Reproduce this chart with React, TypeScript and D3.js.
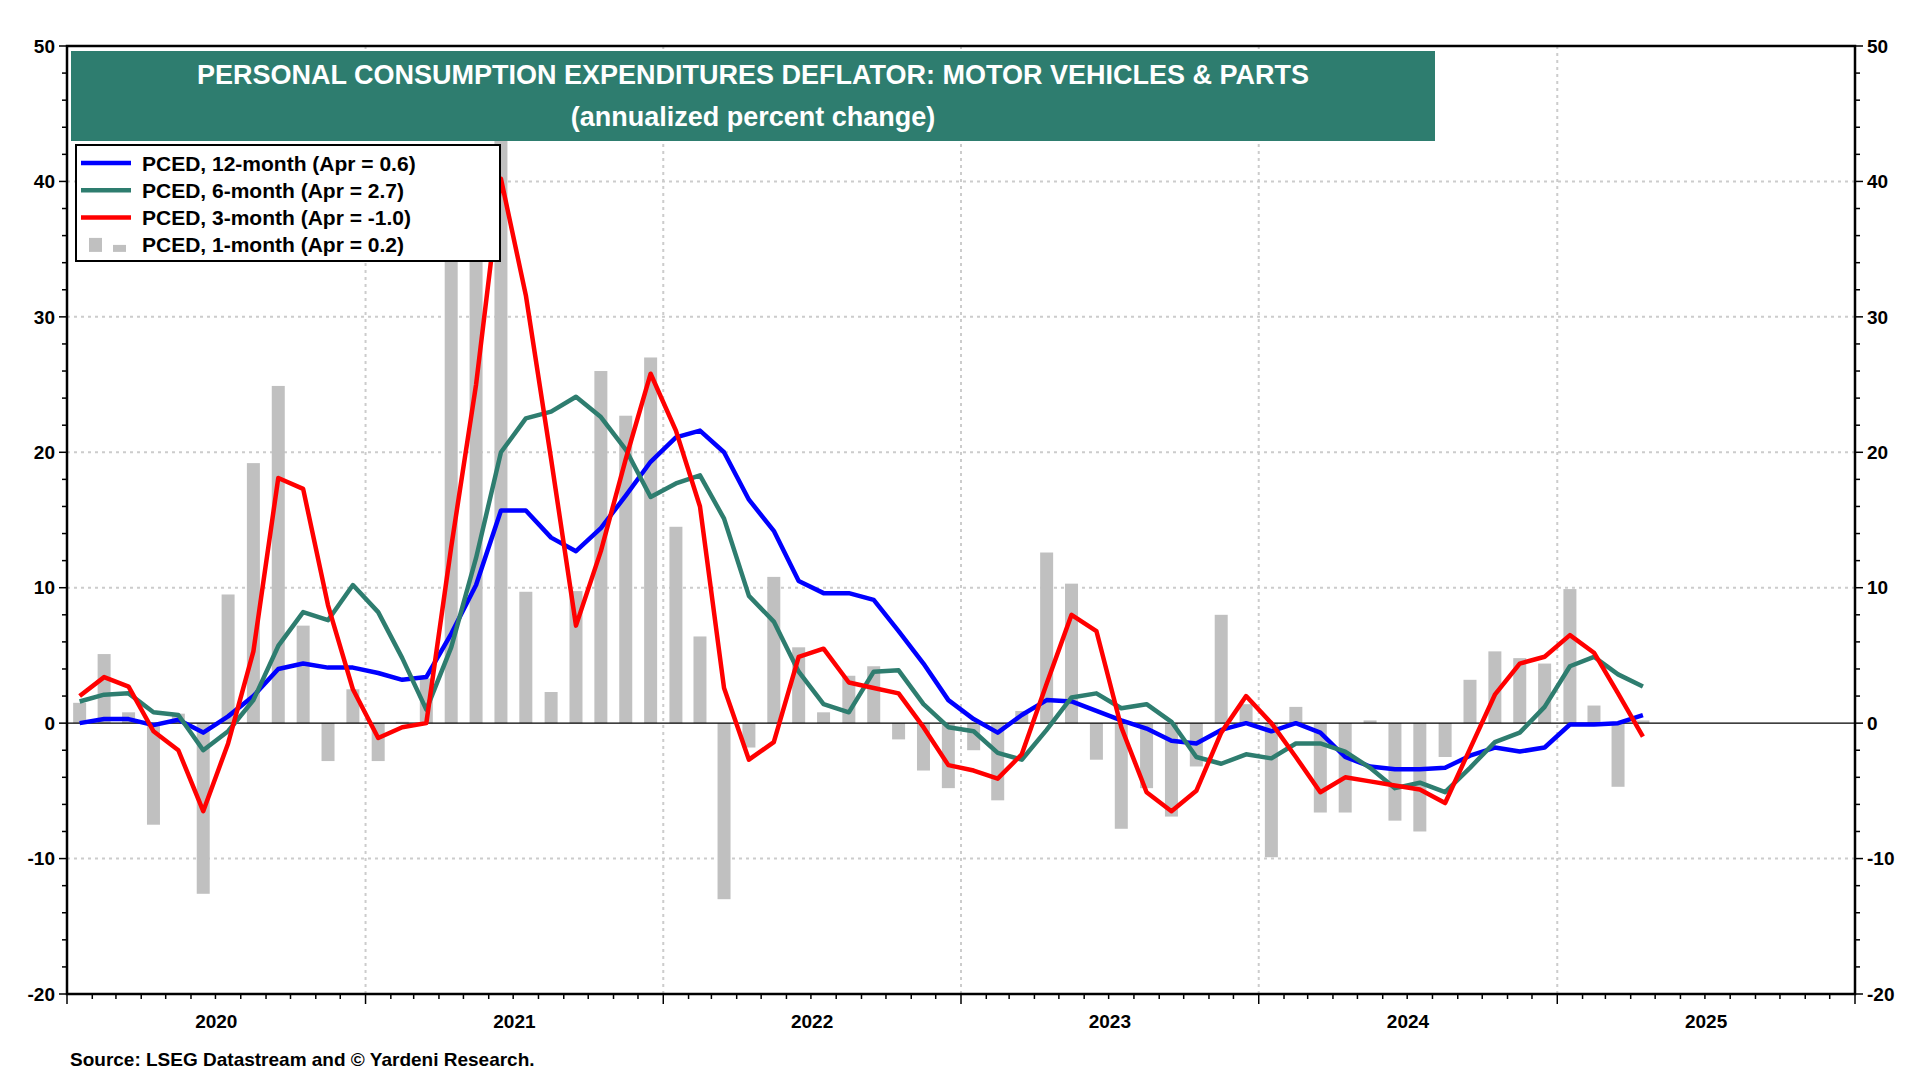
import React from "react";
import * as d3 from "d3";

const months: Date[] = d3.timeMonths(new Date(2020, 0, 1), new Date(2025, 4, 1));
const pced12 = [0, 0.3, 0.3, -0.15, 0.25, -0.7, 0.5, 2.0, 4.0, 4.4, 4.1, 4.1, 3.7, 3.2, 3.4, 6.6, 10.2, 15.7, 15.7, 13.7, 12.7, 14.4, 16.8, 19.3, 21.1, 21.6, 20.0, 16.5, 14.2, 10.5, 9.6, 9.6, 9.1, 6.8, 4.4, 1.7, 0.3, -0.7, 0.6, 1.7, 1.6, 0.9, 0.2, -0.4, -1.3, -1.5, -0.5, 0, -0.6, 0, -0.7, -2.5, -3.2, -3.4, -3.4, -3.3, -2.4, -1.8, -2.1, -1.8, -0.1, -0.1, 0, 0.6];
const pced6 = [1.6, 2.1, 2.2, 0.8, 0.6, -2.0, -0.6, 1.7, 5.7, 8.2, 7.6, 10.2, 8.2, 4.8, 1.0, 5.6, 12.2, 20.0, 22.5, 23.0, 24.1, 22.6, 20.2, 16.7, 17.7, 18.3, 15.1, 9.4, 7.5, 3.8, 1.4, 0.8, 3.8, 3.9, 1.4, -0.3, -0.6, -2.2, -2.7, -0.5, 1.9, 2.2, 1.1, 1.4, 0.1, -2.5, -3.0, -2.3, -2.6, -1.5, -1.5, -2.1, -3.3, -4.8, -4.4, -5.1, -3.3, -1.4, -0.7, 1.2, 4.2, 4.9, 3.6, 2.7];
const pced3 = [2.0, 3.4, 2.7, -0.6, -2.0, -6.5, -1.5, 5.3, 18.1, 17.3, 8.7, 2.5, -1.1, -0.3, 0, 13, 25, 40.2, 31.6, 19.5, 7.2, 12.7, 19.5, 25.8, 21.6, 16.0, 2.6, -2.7, -1.4, 4.9, 5.5, 3.0, 2.6, 2.2, -0.3, -3.1, -3.5, -4.1, -2.3, 2.9, 8.0, 6.8, -0.3, -5.1, -6.5, -5.0, -0.7, 2.0, 0, -2.5, -5.1, -4.0, -4.3, -4.6, -4.9, -5.9, -1.9, 2.1, 4.4, 4.9, 6.5, 5.2, 2.2, -1.0];
const pced1 = [1.5, 5.1, 0.8, -7.5, 0.7, -12.6, 9.5, 19.2, 24.9, 7.2, -2.8, 2.5, -2.8, 0.1, 3.3, 35, 41, 48, 9.7, 2.3, 9.75, 26.0, 22.7, 27.0, 14.5, 6.4, -13.0, -1.8, 10.8, 5.6, 0.8, 3.5, 4.2, -1.2, -3.5, -4.8, -2.0, -5.7, 0.9, 12.6, 10.3, -2.7, -7.8, -4.8, -6.9, -3.2, 8.0, 1.4, -9.9, 1.2, -6.6, -6.6, 0.2, -7.2, -8.0, -2.5, 3.2, 5.3, 4.8, 4.4, 9.9, 1.3, -4.7, 0.2];
const yTicks = [-20, -10, 0, 10, 20, 30, 40, 50];
const years = [2020, 2021, 2022, 2023, 2024, 2025];
const legendItems = [
  { label: "PCED, 12-month (Apr = 0.6)", color: "#0000ff", kind: "line" },
  { label: "PCED, 6-month (Apr = 2.7)", color: "#2e7d6f", kind: "line" },
  { label: "PCED, 3-month (Apr = -1.0)", color: "#ff0000", kind: "line" },
  { label: "PCED, 1-month (Apr = 0.2)", color: "#c0c0c0", kind: "bar" },
];

const L = 67, R = 1855, T = 46, B = 994;
const FONT = "Arial, 'Liberation Sans', sans-serif";

export default function App() {
  const x = d3.scaleTime().domain([new Date(2020, 0, 1), new Date(2026, 0, 1)]).range([L, R]);
  const y = d3.scaleLinear().domain([-20, 50]).range([B, T]);
  const mid = (d: Date) => (x(d) + x(d3.timeMonth.offset(d, 1))) / 2;
  const line = (vals: number[]) =>
    d3.line<number>().x((_, i) => mid(months[i])).y((v) => y(v))(vals) || "";
  const bw = 13;
  const minor = d3.range(-20, 51, 2);
  const yearBounds = years.map((yr) => new Date(yr, 0, 1)).concat([new Date(2026, 0, 1)]);
  return (
    <svg width={1920} height={1080} style={{ position: "absolute", left: 0, top: 0, background: "#fff" }} fontFamily={FONT}>
      <rect x={0} y={0} width={1920} height={1080} fill="#fff" />
      {yTicks.filter((t) => t !== 0 && t !== 50 && t !== -20).map((t) => (
        <line key={"g" + t} x1={L} x2={R} y1={y(t)} y2={y(t)} stroke="#cccccc" strokeWidth={2} strokeDasharray="3,4" />
      ))}
      {yearBounds.slice(1, -1).map((d, i) => (
        <line key={"v" + i} x1={x(d)} x2={x(d)} y1={T} y2={B} stroke="#cccccc" strokeWidth={2} strokeDasharray="3,4" />
      ))}
      {pced1.map((v, i) => (
        <rect key={"b" + i} x={mid(months[i]) - bw / 2} width={bw} y={y(Math.max(0, v))} height={Math.abs(y(v) - y(0))} fill="#c0c0c0" />
      ))}
      <line x1={L} x2={R} y1={y(0)} y2={y(0)} stroke="#000" strokeWidth={1.2} />
      <path d={line(pced12)} fill="none" stroke="#0000ff" strokeWidth={4.5} strokeLinejoin="round" />
      <path d={line(pced6)} fill="none" stroke="#2e7d6f" strokeWidth={4.5} strokeLinejoin="round" />
      <path d={line(pced3)} fill="none" stroke="#ff0000" strokeWidth={4.5} strokeLinejoin="round" />
      <rect x={L} y={T} width={R - L} height={B - T} fill="none" stroke="#000" strokeWidth={2.5} />
      {minor.map((t) => (
        <g key={"m" + t}>
          <line x1={L - (t % 10 === 0 ? 8 : 5)} x2={L} y1={y(t)} y2={y(t)} stroke="#000" strokeWidth={1.5} />
          <line x1={R} x2={R + (t % 10 === 0 ? 8 : 5)} y1={y(t)} y2={y(t)} stroke="#000" strokeWidth={1.5} />
        </g>
      ))}
      {d3.timeMonths(new Date(2020, 0, 1), new Date(2026, 0, 2)).map((d, i) => (
        <line key={"xt" + i} x1={x(d)} x2={x(d)} y1={B} y2={B + (d.getMonth() === 0 ? 10 : 5)} stroke="#000" strokeWidth={1.5} />
      ))}
      {yTicks.map((t) => (
        <g key={"yl" + t} fontSize={19} fontWeight="bold">
          <text x={L - 12} y={y(t)} dy="0.35em" textAnchor="end">{t}</text>
          <text x={R + 12} y={y(t)} dy="0.35em" textAnchor="start">{t}</text>
        </g>
      ))}
      {years.map((yr) => (
        <text key={yr} x={(x(new Date(yr, 0, 1)) + x(new Date(yr + 1, 0, 1))) / 2} y={1028} textAnchor="middle" fontSize={19} fontWeight="bold">{yr}</text>
      ))}
      <rect x={71} y={51} width={1364} height={90} fill="#2e7d6f" />
      <text x={753} y={84} textAnchor="middle" fill="#fff" fontSize={27} fontWeight="bold">PERSONAL CONSUMPTION EXPENDITURES DEFLATOR: MOTOR VEHICLES &amp; PARTS</text>
      <text x={753} y={126} textAnchor="middle" fill="#fff" fontSize={27} fontWeight="bold">(annualized percent change)</text>
      <rect x={76} y={145} width={424} height={116} fill="#fff" stroke="#000" strokeWidth={2} />
      {legendItems.map((it, i) => {
        const ly = 163 + i * 27.3;
        return (
          <g key={it.label}>
            {it.kind === "line" ? (
              <line x1={81} x2={131} y1={ly} y2={ly} stroke={it.color} strokeWidth={4.5} />
            ) : (
              <g>
                <rect x={89} y={ly - 7} width={13} height={14} fill={it.color} />
                <rect x={113} y={ly} width={13} height={7} fill={it.color} />
              </g>
            )}
            <text x={142} y={ly} dy="0.36em" fontSize={21} fontWeight="bold">{it.label}</text>
          </g>
        );
      })}
      <text x={70} y={1066} fontSize={19} fontWeight="bold">Source: LSEG Datastream and © Yardeni Research.</text>
    </svg>
  );
}
